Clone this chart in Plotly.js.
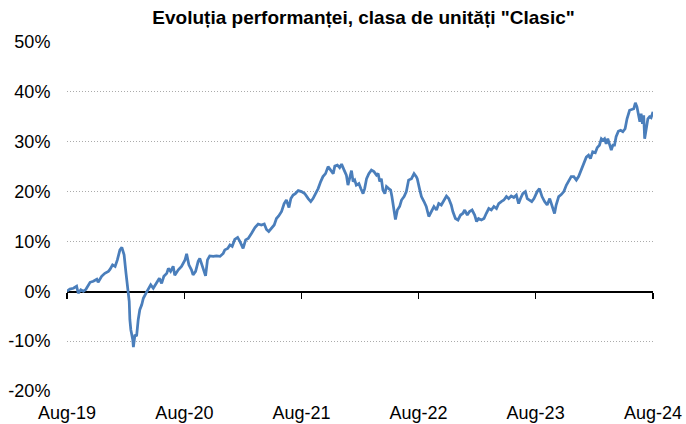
<!DOCTYPE html>
<html>
<head>
<meta charset="utf-8">
<script src="https://cdn.plot.ly/plotly-3.0.1.min.js"></script>
<style>html,body{margin:0;padding:0;background:#fff;}#chart{width:686px;height:424px;}</style>
</head>
<body>
<div id="chart"></div>
<script>
// Dates of the readings
const dates = [
"2019-08-01","2019-08-10","2019-08-21","2019-08-31","2019-09-05","2019-09-13","2019-09-21","2019-09-29",
"2019-10-12","2019-10-22","2019-11-02","2019-11-06","2019-11-17","2019-11-27","2019-12-08","2019-12-13",
"2019-12-21","2019-12-29","2020-01-05","2020-01-13","2020-01-19","2020-01-26","2020-02-01","2020-02-06",
"2020-02-11","2020-02-13","2020-02-16","2020-02-22","2020-02-24","2020-02-29","2020-03-05","2020-03-10",
"2020-03-15","2020-03-21","2020-03-26","2020-04-03","2020-04-10","2020-04-18","2020-04-26","2020-05-06",
"2020-05-15","2020-05-22","2020-05-29","2020-06-07","2020-06-12","2020-06-19","2020-06-27","2020-07-02",
"2020-07-13","2020-07-23","2020-08-03","2020-08-08","2020-08-15","2020-08-23","2020-08-28","2020-09-05",
"2020-09-13","2020-09-18","2020-09-24","2020-10-02","2020-10-06","2020-10-12","2020-10-19","2020-10-30",
"2020-11-09","2020-11-20","2020-11-30","2020-12-05","2020-12-14","2020-12-21","2020-12-28","2021-01-05",
"2021-01-14","2021-01-21","2021-01-26","2021-01-31","2021-02-08","2021-02-16","2021-02-26","2021-03-09",
"2021-03-19","2021-03-29","2021-04-07","2021-04-14","2021-04-21","2021-04-30","2021-05-08","2021-05-15",
"2021-05-22","2021-05-31","2021-06-08","2021-06-15","2021-06-23","2021-06-29","2021-07-06","2021-07-13",
"2021-07-22","2021-08-01","2021-08-11","2021-08-22","2021-08-30","2021-09-06","2021-09-14","2021-09-22",
"2021-09-30","2021-10-07","2021-10-15","2021-10-23","2021-10-31","2021-11-08","2021-11-13","2021-11-21",
"2021-11-28","2021-12-04","2021-12-12","2021-12-19","2021-12-24","2021-12-30","2022-01-04","2022-01-09",
"2022-01-14","2022-01-19","2022-01-27","2022-02-02","2022-02-09","2022-02-14","2022-02-20","2022-02-27",
"2022-03-07","2022-03-15","2022-03-23","2022-03-28","2022-04-02","2022-04-07","2022-04-12","2022-04-18",
"2022-04-23","2022-04-30","2022-05-06","2022-05-10","2022-05-17","2022-05-21","2022-05-27","2022-06-03",
"2022-06-09","2022-06-17","2022-06-24","2022-07-01","2022-07-10","2022-07-18","2022-07-25","2022-07-28",
"2022-08-05","2022-08-10","2022-08-18","2022-08-25","2022-09-02","2022-09-10","2022-09-18","2022-09-26",
"2022-10-03","2022-10-11","2022-10-19","2022-10-27","2022-11-03","2022-11-11","2022-11-16","2022-11-24",
"2022-12-02","2022-12-10","2022-12-17","2022-12-23","2022-12-31","2023-01-07","2023-01-15","2023-01-23",
"2023-01-29","2023-02-04","2023-02-13","2023-02-21","2023-02-28","2023-03-08","2023-03-16","2023-03-24",
"2023-04-01","2023-04-08","2023-04-16","2023-04-24","2023-05-02","2023-05-09","2023-05-17","2023-05-25",
"2023-06-02","2023-06-09","2023-06-15","2023-06-22","2023-06-30","2023-07-06","2023-07-13","2023-07-20",
"2023-07-27","2023-08-06","2023-08-13","2023-08-21","2023-08-29","2023-09-06","2023-09-14","2023-09-21",
"2023-09-29","2023-10-04","2023-10-12","2023-10-20","2023-10-28","2023-11-05","2023-11-12","2023-11-20",
"2023-11-28","2023-12-06","2023-12-13","2023-12-21","2023-12-29","2024-01-06","2024-01-13","2024-01-19",
"2024-01-26","2024-02-03","2024-02-09","2024-02-16","2024-02-22","2024-02-27","2024-03-03","2024-03-08",
"2024-03-13","2024-03-18","2024-03-24","2024-03-29","2024-04-03","2024-04-08","2024-04-15","2024-04-22",
"2024-04-29","2024-05-06","2024-05-12","2024-05-20","2024-05-27","2024-06-02","2024-06-07","2024-06-12",
"2024-06-17","2024-06-21","2024-06-25","2024-06-29","2024-07-03","2024-07-06","2024-07-11","2024-07-16",
"2024-07-21","2024-07-26","2024-08-01"
];
// Cumulative performance, percent
const performance = [
0.0,0.45,0.6,1.0,-0.4,0.3,0.0,0.4,
1.8,2.0,2.4,1.8,3.0,3.6,4.0,4.4,
5.3,5.0,6.3,8.3,8.8,7.3,3.6,0.3,
-2.0,-5.7,-7.7,-9.7,-11.2,-8.7,-9.0,-5.7,
-3.7,-2.7,-1.4,-0.4,0.3,1.3,0.6,1.6,
2.6,1.6,3.0,3.6,4.6,4.0,5.0,3.2,
4.3,5.0,6.3,7.5,5.3,4.3,3.3,4.0,
6.0,6.6,5.3,4.0,3.1,6.3,7.1,7.0,
7.1,7.0,7.6,8.3,8.6,9.3,9.0,10.4,
10.8,10.0,9.3,8.6,10.3,10.6,11.6,12.8,
13.5,13.3,13.5,12.4,12.0,12.6,13.3,14.6,
15.1,16.0,17.6,18.3,16.8,18.6,19.3,19.6,
20.2,20.0,19.6,18.6,18.0,18.6,19.6,20.6,
22.0,23.0,23.6,25.0,24.3,23.6,25.1,25.3,
24.8,25.5,24.3,23.3,21.3,22.6,24.2,22.0,
22.3,21.3,21.6,20.6,19.6,20.6,22.6,23.6,
24.3,24.0,23.3,23.6,22.0,22.6,20.3,19.6,
21.0,20.6,20.3,19.0,16.0,14.4,16.3,17.0,
18.3,19.0,20.0,22.3,22.6,23.6,23.0,22.6,
20.3,19.0,18.0,17.0,15.0,16.0,17.0,16.3,
17.6,17.3,18.3,19.1,18.6,17.3,16.0,14.6,
14.3,15.3,15.6,16.3,15.3,16.0,16.3,15.3,
14.0,14.6,14.3,14.6,15.6,16.6,16.3,17.0,
16.6,17.6,18.0,18.3,19.0,18.6,19.1,18.8,
19.3,17.6,18.6,19.6,20.0,18.6,18.3,18.0,
18.6,20.0,20.6,19.0,18.0,17.3,18.6,17.3,
15.6,17.3,19.0,19.4,20.0,21.3,22.1,23.0,
23.0,22.3,23.0,24.3,25.9,26.9,27.3,26.6,
28.0,27.8,28.8,29.3,30.6,30.3,30.6,29.6,
30.6,29.3,28.3,29.3,29.3,31.0,32.1,32.3,
32.0,32.6,34.6,36.3,36.5,36.6,37.8,37.0,
35.3,34.0,35.6,33.6,35.3,30.6,32.6,34.6,
35.0,34.8,36.0
];
const xTickVals = ["2019-08-01","2020-08-01","2021-08-01","2022-08-01","2023-08-01","2024-08-01"];
const xTickText = ["Aug-19","Aug-20","Aug-21","Aug-22","Aug-23","Aug-24"];
const yTickVals = [-20,-10,0,10,20,30,40,50];
const yTickText = ["-20%","-10%","0%","10%","20%","30%","40%","50%"];

const FONT = "Liberation Sans, Arial, sans-serif";
const xRange = ["2019-08-01","2024-08-01"];
const yRange = [-20,50];

// empty trace that makes the zero-line axis (x2) exist as a subplot
const axisTrace = {x: [], y: [], type: "scatter", mode: "lines", xaxis: "x2", yaxis: "y", hoverinfo: "skip"};

const trace = {
  x: dates, y: performance, type: "scatter", mode: "lines",
  line: {color: "#4A7EBB", width: 2.75}, hoverinfo: "skip"
};

const layout = {
  width: 686, height: 424,
  margin: {l: 67, r: 32.5, t: 41.5, b: 32.5},
  paper_bgcolor: "#fff", plot_bgcolor: "#fff",
  showlegend: false,
  font: {family: FONT, size: 18, color: "#000"},
  title: {text: "<b>Evoluția performanței, clasa de unități \"Clasic\"</b>",
          font: {family: FONT, size: 19, color: "#000"},
          x: 0.53, xanchor: "center", y: 0.96, yanchor: "middle"},
  xaxis: {
    type: "date", range: xRange, tickmode: "array", tickvals: xTickVals, ticktext: xTickText,
    showgrid: false, zeroline: false, showline: false,
    ticks: "outside", ticklen: 5, tickcolor: "rgba(0,0,0,0)",
    tickfont: {family: FONT, size: 18, color: "#000"}
  },
  xaxis2: {
    type: "date", range: xRange, overlaying: "x", anchor: "free", position: 20/70,
    tickmode: "array", tickvals: xTickVals, showticklabels: false,
    showgrid: false, zeroline: false, showline: true, linecolor: "#000", linewidth: 1.5,
    ticks: "outside", ticklen: 6, tickwidth: 1.5, tickcolor: "#000", layer: "below traces"
  },
  yaxis: {
    range: yRange, tickmode: "array", tickvals: yTickVals, ticktext: yTickText,
    showgrid: true, gridcolor: "#ABABAB", griddash: "1px,2px", gridwidth: 1,
    zeroline: false, showline: false,
    ticks: "outside", ticklen: 12, tickcolor: "rgba(0,0,0,0)",
    tickfont: {family: FONT, size: 18, color: "#000"}
  }
};

Plotly.newPlot("chart", [axisTrace, trace], layout, {displayModeBar: false, staticPlot: true});
</script>
</body>
</html>
